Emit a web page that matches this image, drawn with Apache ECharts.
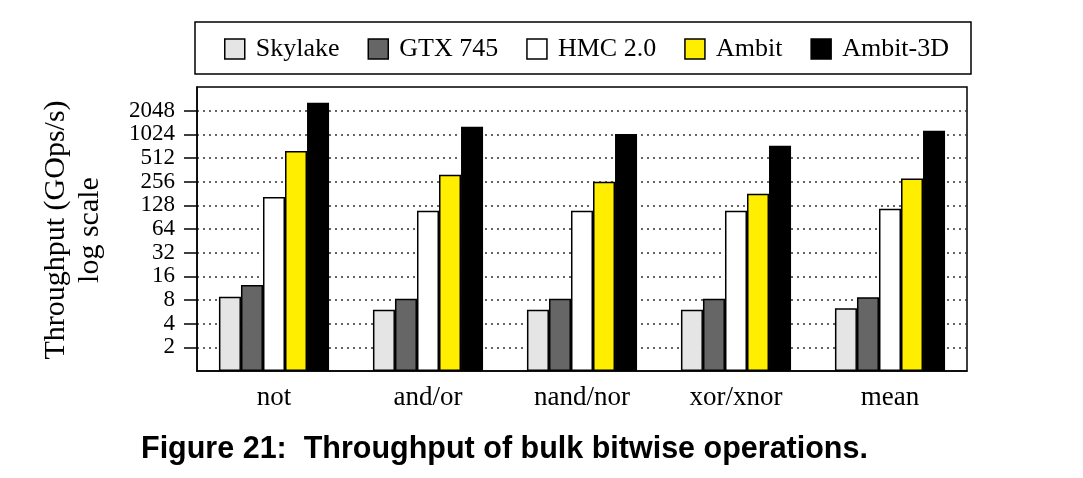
<!DOCTYPE html>
<html>
<head>
<meta charset="utf-8">
<script src="https://cdn.jsdelivr.net/npm/echarts@6/dist/echarts.min.js"></script>
<style>html,body{margin:0;padding:0;background:#fff;}#c{width:1083px;height:478px;}</style>
</head>
<body>
<div id="c"></div>
<script>
const categories = ['not', 'and/or', 'nand/nor', 'xor/xnor', 'mean'];
const seriesNames = ['Skylake', 'GTX 745', 'HMC 2.0', 'Ambit', 'Ambit-3D'];
const skylake = [8.8, 6.0, 6.0, 6.0, 6.3];
const gtx745 = [12.4, 8.3, 8.3, 8.3, 8.7];
const hmc20 = [163, 109, 109, 109, 116];
const ambit = [628, 314, 256, 180, 280];
const ambit3d = [2585, 1280, 1032, 734, 1137];
const yTicks = [2, 4, 8, 16, 32, 64, 128, 256, 512, 1024, 2048];

const colors = ['#e5e5e5', '#666666', '#ffffff', '#ffee00', '#000000'];
const values = [skylake, gtx745, hmc20, ambit, ambit3d];

const serif = 'Liberation Serif';
const chart = echarts.init(document.getElementById('c'), null, {renderer: 'canvas'});

const series = seriesNames.map((name, i) => ({
  name: name,
  type: 'bar',
  data: values[i],
  barGap: '0%',
  barCategoryGap: '28.5%',
  itemStyle: {color: colors[i], borderColor: '#000', borderWidth: 1.5},
  emphasis: {disabled: true}
}));

chart.setOption({
  animation: false,
  grid: {left: 197, right: 116, top: 87, bottom: 107, show: true, borderColor: '#000', borderWidth: 1.5, backgroundColor: 'transparent'},
  legend: {
    left: 219, top: 31,
    itemWidth: 20, itemHeight: 20, itemGap: 28,
    icon: 'rect',
    textStyle: {fontFamily: serif, fontSize: 26, color: '#000', padding: [0, 0, 0, 6]},
    itemStyle: {borderColor: '#000', borderWidth: 1.5},
    data: seriesNames
  },
  xAxis: {
    type: 'category',
    data: categories,
    axisLine: {lineStyle: {color: '#000', width: 1.5}},
    axisTick: {alignWithLabel: true, length: 10, lineStyle: {color: '#000', width: 1.5}},
    axisLabel: {fontFamily: serif, fontSize: 27, color: '#000', margin: 13},
    splitLine: {show: false}
  },
  yAxis: {
    type: 'log',
    logBase: 2,
    min: 1,
    max: 4096,
    interval: 1,
    axisLine: {show: true, lineStyle: {color: '#000', width: 1.5}},
    axisTick: {show: true, length: 13, lineStyle: {color: '#000', width: 1.5}, customValues: yTicks},
    axisLabel: {
      fontFamily: serif, fontSize: 23, color: '#000', margin: 22,
      customValues: yTicks,
      formatter: function (v) { const r = Math.round(v); return yTicks.indexOf(r) >= 0 ? String(r) : ''; }
    },
    splitLine: {show: true, showMinLine: true, showMaxLine: true, lineStyle: {color: '#333', width: 1.5, type: [2, 4]}}
  },
  graphic: [
    {type: 'rect', shape: {x: 195, y: 22, width: 776, height: 52}, style: {fill: 'none', stroke: '#000', lineWidth: 1.5}, silent: true, z: 100},
    {type: 'text', x: 73, y: 230, rotation: Math.PI / 2,
     style: {text: 'Throughput (GOps/s)\nlog scale', fontFamily: serif, fontSize: 30, lineHeight: 34, fill: '#000', align: 'center', verticalAlign: 'middle'}},
    {type: 'text', x: 141, y: 450,
     style: {text: 'Figure 21:  Throughput of bulk bitwise operations.', fontFamily: 'Liberation Sans', fontWeight: 'bold', fontSize: 30.5, fill: '#000', align: 'left', verticalAlign: 'middle'}}
  ],
  series: series
});
</script>
</body>
</html>
